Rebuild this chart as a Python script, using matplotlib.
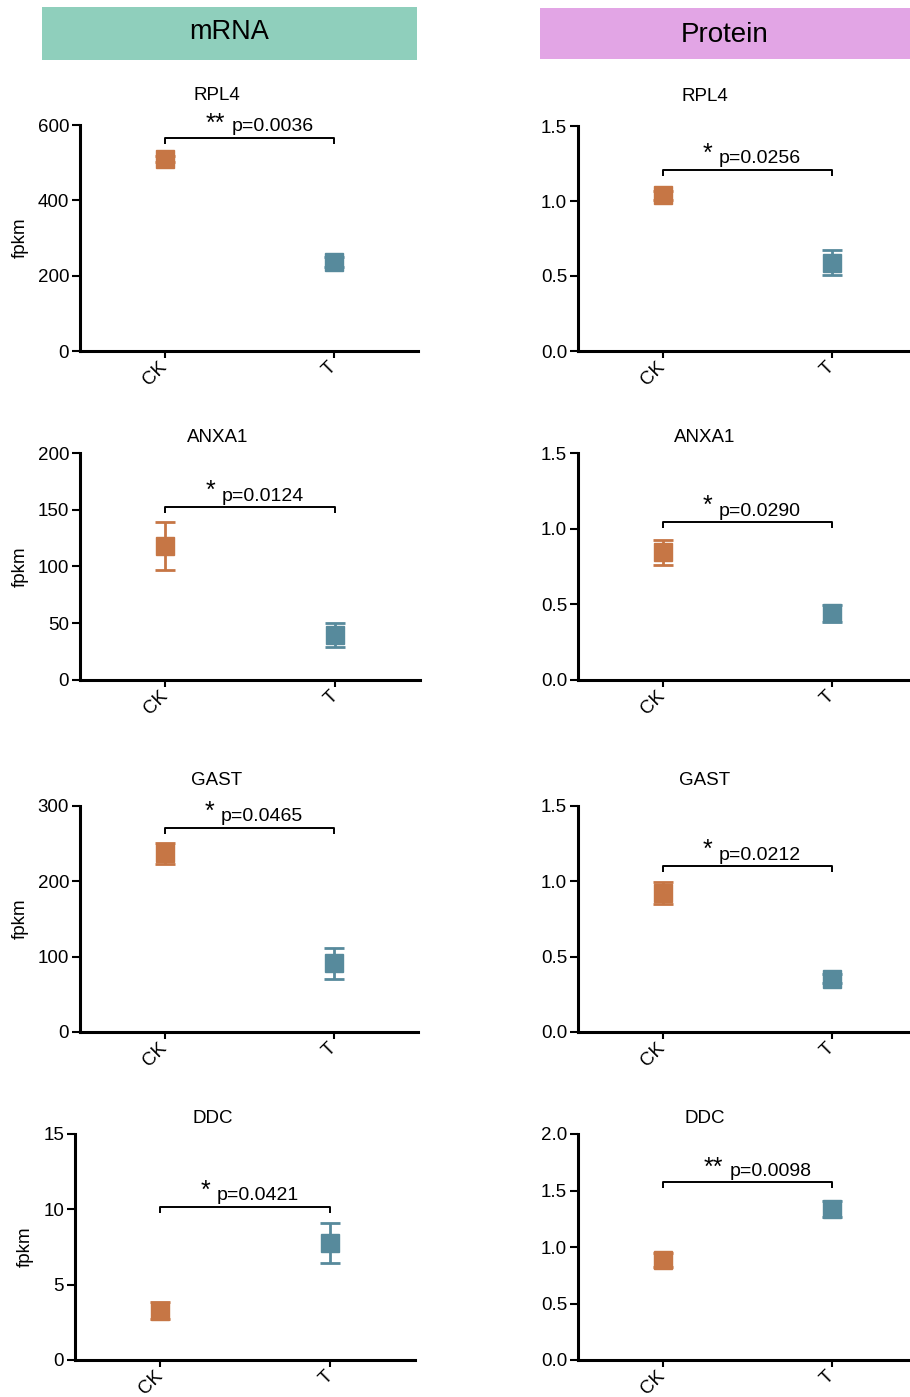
import matplotlib
matplotlib.use("Agg")
import matplotlib.pyplot as plt
from matplotlib.patches import Rectangle
import numpy as np

plt.rcParams['font.family'] = ['Liberation Sans', 'DejaVu Sans']

# ---------------- data ----------------
genes = ['RPL4', 'ANXA1', 'GAST', 'DDC']
groups = ['CK', 'T']
column_titles = ['mRNA', 'Protein']
ylabel_mrna = 'fpkm'

mrna_mean = [[510, 237], [118, 40], [237, 91], [3.27, 7.77]]
mrna_err = [[7.5, 13], [21.5, 10.5], [14, 20], [0.55, 1.3]]
protein_mean = [[1.04, 0.59], [0.845, 0.44], [0.92, 0.355], [0.885, 1.335]]
protein_err = [[0.03, 0.083], [0.083, 0.055], [0.073, 0.03], [0.06, 0.072]]

mrna_p = ['0.0036', '0.0124', '0.0465', '0.0421']
protein_p = ['0.0256', '0.0290', '0.0212', '0.0098']
mrna_stars = ['**', '*', '*', '*']
protein_stars = ['*', '*', '*', '**']

mrna_ymax = [600, 200, 300, 15]
mrna_ystep = [200, 50, 100, 5]
protein_ymax = [1.5, 1.5, 1.5, 2.0]
protein_ystep = [0.5, 0.5, 0.5, 0.5]

mrna_bracket = [566, 152.4, 270.8, 10.17]
protein_bracket = [1.207, 1.043, 1.101, 1.573]

# ---------------- style / layout ----------------
W, H = 910, 1397
c_ck = '#C67645'
c_t = '#578A9C'
colors = [c_ck, c_t]
hdr_colors = ['#8FCFBC', '#E2A5E5']
FS = 13.5

# axes pixel boxes: (left, top, bottom, width)
left_boxes = [(80, 125, 351, 338), (80, 453, 680, 340), (80, 806, 1032, 338), (75, 1134, 1360, 340)]
right_boxes = [(578, 126, 351, 338), (578, 453, 680, 338), (578, 806, 1032, 338), (578, 1134, 1360, 338)]
title_off = [25, 11, 21, 11]
title_xfrac = [0.405, 0.375]

fig = plt.figure(figsize=(W / 100, H / 100), dpi=100)


def px_axes(l, t, b, w):
    return fig.add_axes([l / W, 1 - b / H, w / W, (b - t) / H])


def draw_panel(ax, means, errs, ymax, ystep, title, col, row, bracket, stars, p, ylabel):
    x = np.arange(len(groups))
    for i in range(len(groups)):
        ax.errorbar(x[i], means[i], yerr=errs[i], fmt='s', ms=13.5, color=colors[i],
                    mec=colors[i], ecolor=colors[i], elinewidth=2.0, capsize=7.2,
                    capthick=2.0, zorder=3)
    ax.set_xlim(-0.5, 1.5)
    ax.set_ylim(0, ymax)
    ticks = np.arange(0, ymax + ystep / 2, ystep)
    ax.set_yticks(ticks)
    if ystep < 1:
        ax.set_yticklabels([f'{v:.1f}' for v in ticks])
    else:
        ax.set_yticklabels([f'{v:g}' for v in ticks])
    ax.set_xticks(x)
    ax.set_xticklabels(groups, rotation=45, ha='right', va='center', rotation_mode='anchor')
    for s in ['top', 'right']:
        ax.spines[s].set_visible(False)
    for s in ['left', 'bottom']:
        ax.spines[s].set_linewidth(2.2)
    ax.tick_params(axis='y', length=5.8, width=1.5, labelsize=FS, pad=2)
    ax.tick_params(axis='x', length=5.0, width=1.5, labelsize=FS, pad=5)
    ax.patch.set_alpha(0)

    # title
    hpx = ax.get_position().height * H
    ax.text(title_xfrac[col], 1 + title_off[row] / hpx, title, transform=ax.transAxes,
            ha='center', va='baseline', fontsize=FS)

    # bracket
    tick = 6 / hpx * ymax
    ax.plot([x[0], x[0], x[1], x[1]], [bracket - tick, bracket, bracket, bracket - tick],
            color='black', lw=1.4, clip_on=False, solid_capstyle='butt', zorder=4)
    mid = (x[0] + x[1]) / 2
    if len(stars) == 1:
        sx, sy, px = -40, 9, -28
    else:
        sx, sy, px = -34, 7, -17
    ax.annotate(stars, xy=(mid, bracket), xytext=(sx, sy), textcoords='offset pixels',
                ha='center', va='baseline', fontsize=18, annotation_clip=False)
    ax.annotate('p=' + p, xy=(mid, bracket), xytext=(px, 6.5), textcoords='offset pixels',
                ha='left', va='baseline', fontsize=14, annotation_clip=False)

    if ylabel:
        pos = ax.get_position()
        lx = 20 if row < 3 else 25
        fig.text(lx / W, pos.y0 + pos.height / 2, ylabel, rotation=90,
                 ha='center', va='center', fontsize=FS)


for r in range(4):
    axl = px_axes(*left_boxes[r])
    draw_panel(axl, mrna_mean[r], mrna_err[r], mrna_ymax[r], mrna_ystep[r], genes[r], 0, r,
               mrna_bracket[r], mrna_stars[r], mrna_p[r], ylabel_mrna)
    axr = px_axes(*right_boxes[r])
    draw_panel(axr, protein_mean[r], protein_err[r], protein_ymax[r], protein_ystep[r], genes[r], 1, r,
               protein_bracket[r], protein_stars[r], protein_p[r], None)

# header boxes
hdr_boxes = [(42, 7, 417, 60), (540, 8, 910, 59)]
hdr_sizes = [19.5, 20]
hdr_text_y = [32, 34.5]
for k in range(2):
    x0, y0, x1, y1 = hdr_boxes[k]
    fig.patches.append(Rectangle((x0 / W, 1 - y1 / H), (x1 - x0) / W, (y1 - y0) / H,
                                 transform=fig.transFigure, facecolor=hdr_colors[k],
                                 edgecolor='none', zorder=0))
    fig.text(((x0 + x1) / 2) / W, 1 - hdr_text_y[k] / H, column_titles[k], ha='center',
             va='center', fontsize=hdr_sizes[k])

fig.savefig('out.png', dpi=100)
